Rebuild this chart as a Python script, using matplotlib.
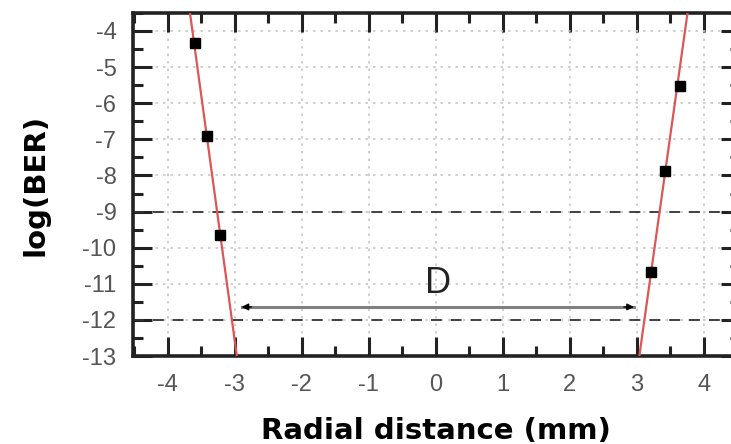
import numpy as np
import matplotlib.pyplot as plt
from matplotlib.ticker import MultipleLocator

# measured points (radial distance mm, log BER)
left_x = [-3.60, -3.41, -3.22]
left_y = [-4.32, -6.92, -9.65]
right_x = [3.64, 3.43, 3.22]
right_y = [-5.53, -7.89, -10.67]

# fitted lines, endpoints at plot top/bottom
fit_left_x = [-3.67, -2.97]
fit_right_x = [3.76, 3.04]
fit_y = [-3.5, -13.0]

# threshold levels and D marker
thresholds = [-9, -12]
d_start, d_end, d_level = -2.90, 2.96, -11.64

plt.rcParams['font.family'] = ['Liberation Sans', 'DejaVu Sans']
plt.rcParams['axes.unicode_minus'] = False

fig = plt.figure(figsize=(7.31, 4.44), dpi=100)
ax = fig.add_axes([0.182, 0.198, 0.830, 0.773])

ax.set_xlim(-4.52, 4.54)
ax.set_ylim(-13, -3.5)

ax.xaxis.set_major_locator(MultipleLocator(1))
ax.xaxis.set_minor_locator(MultipleLocator(0.5))
ax.yaxis.set_major_locator(MultipleLocator(1))
ax.yaxis.set_minor_locator(MultipleLocator(0.5))

ax.grid(True, which='major', color='#c8c8c8', linestyle=(0, (1.5, 3)), linewidth=1.2)
for t in thresholds:
    ax.axhline(t, color='#333333', linestyle=(0, (6, 5)), linewidth=1.3, zorder=2)

ax.plot(fit_left_x, fit_y, color='#dd5555', lw=1.6, zorder=3)
ax.plot(fit_right_x, fit_y, color='#dd5555', lw=1.6, zorder=3)
ax.plot(left_x, left_y, 's', color='black', ms=7, zorder=4)
ax.plot(right_x, right_y, 's', color='black', ms=7, zorder=4)

# D span: gray shaft, small black heads
ax.plot([d_start, d_end], [d_level, d_level], color='#808080', lw=2.2, zorder=3)
for a, b in [(d_start + 0.15, d_start), (d_end - 0.15, d_end)]:
    ax.annotate('', xy=(b, d_level), xytext=(a, d_level),
                arrowprops=dict(arrowstyle='-|>', color='black', lw=1,
                                mutation_scale=10, shrinkA=0, shrinkB=0), zorder=4)
ax.text(0.03, -11.0, 'D', fontsize=26, ha='center', va='center', color='#222222')

ax.tick_params(which='both', direction='in', top=True, right=True,
               labelsize=17, labelcolor='#555555', color='#222222')
ax.tick_params(axis='x', pad=13)
ax.tick_params(axis='y', pad=12)
ax.tick_params(which='major', length=14, width=2.2)
ax.tick_params(which='minor', length=7, width=2.2)
for s in ax.spines.values():
    s.set_linewidth(2.6)
    s.set_color('#222222')

ax.set_xlabel('Radial distance (mm)', fontsize=21, fontweight='bold', labelpad=15,
              family='DejaVu Sans')
ax.set_ylabel('log(BER)', fontsize=21, fontweight='bold', labelpad=24,
              family='DejaVu Sans')

fig.savefig('out.png', dpi=100)
